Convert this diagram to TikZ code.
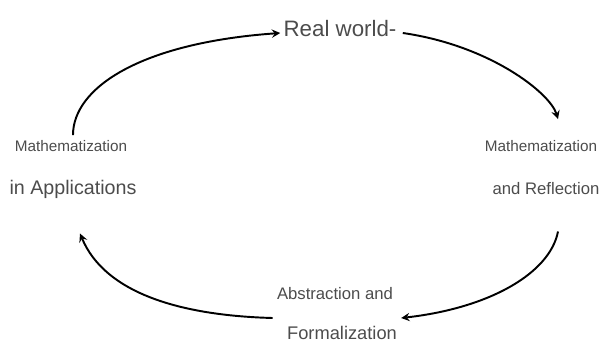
\documentclass[tikz,border=0pt]{standalone}
\usepackage{fontspec}
\setmainfont{Liberation Sans}
\usepackage{tikz}
\usetikzlibrary{arrows,positioning,calc}

\begin{document}
\begin{tikzpicture}[
    lbl/.style={text=black!70, inner sep=0pt, align=center},
    arrow/.style={->, >=stealth, thick, line width=1.1pt}
]
\useasboundingbox (0,0) rectangle (11.98,6.86);

% Stages
\node[lbl, font=\fontsize{12.7}{14}\selectfont] (real) at (6.80,6.28) {Real world-};
\node[lbl, font=\fontsize{8.7}{10}\selectfont] (mathL) at (1.42,3.94) {Mathematization};
\node[lbl, font=\fontsize{11.2}{13}\selectfont] (applL) at (1.46,3.08) {in Applications};
\node[lbl, font=\fontsize{8.7}{10}\selectfont] (mathR) at (10.82,3.94) {Mathematization};
\node[lbl, font=\fontsize{9.5}{11}\selectfont] (reflR) at (10.92,3.08) {and Reflection};
\node[lbl, font=\fontsize{9.5}{11}\selectfont] (abstr) at (6.70,0.98) {Abstraction and};
\node[lbl, font=\fontsize{10.4}{12}\selectfont] (formal) at (6.84,0.20) {Formalization};

% Arrow ends
\coordinate (a1s) at ($(mathL.north)+(0.04,0.10)$);
\coordinate (a1e) at ($(real.west)+(-0.06,-0.08)$);
\coordinate (a2s) at ($(real.east)+(0.12,-0.08)$);
\coordinate (a2e) at ($(mathR.north)+(0.34,0.42)$);
\coordinate (a3s) at ($(reflR.south)+(0.24,-0.72)$);
\coordinate (a3e) at ($(formal.east)+(0.08,0.30)$);
\coordinate (a4s) at ($(abstr.west)+(-0.08,-0.48)$);
\coordinate (a4e) at ($(applL.south)+(0.14,-0.70)$);

% Cycle
\draw[arrow] (a1s) .. controls (1.46,5.10) and (2.80,6.00) .. (a1e);
\draw[arrow] (a2s) .. controls (9.80,5.95) and (11.00,5.00) .. (a2e);
\draw[arrow] (a3s) .. controls (11.00,1.40) and (9.80,0.70) .. (a3e);
\draw[arrow] (a4s) .. controls (3.60,0.55) and (2.10,1.00) .. (a4e);

\end{tikzpicture}
\end{document}
